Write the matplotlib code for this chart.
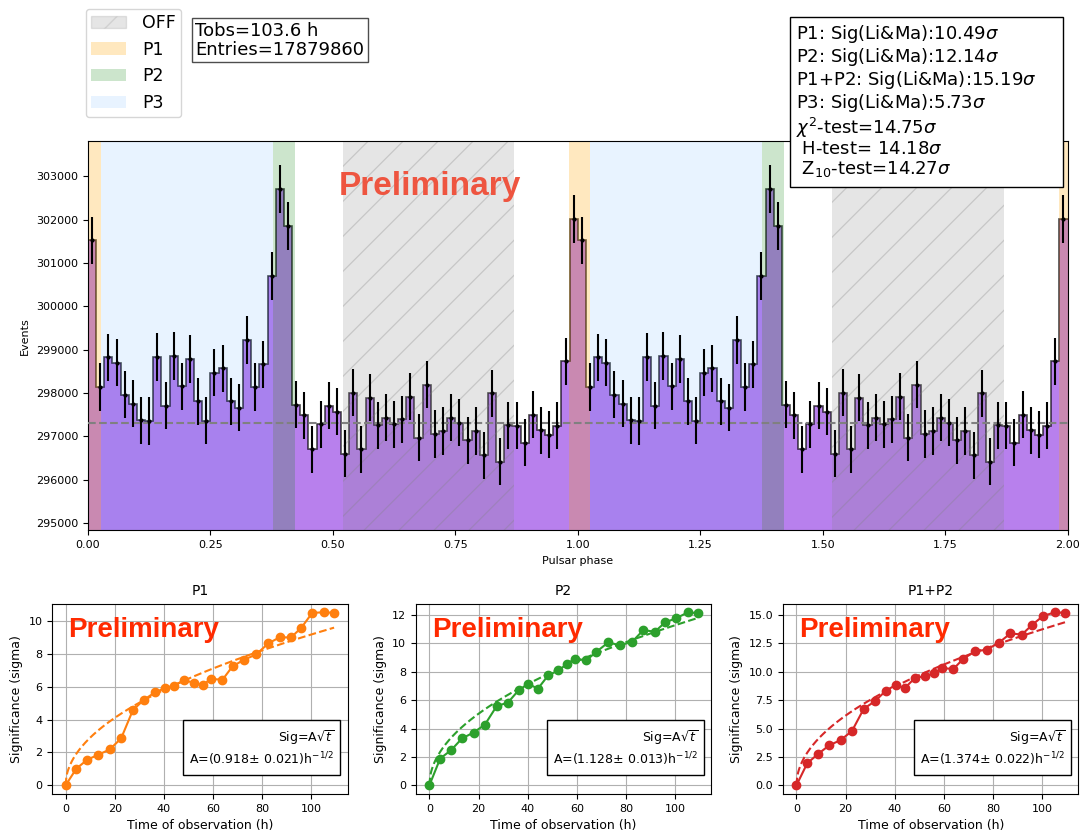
import numpy as np
import matplotlib.pyplot as plt
from matplotlib.patches import Patch, Rectangle
from matplotlib.collections import LineCollection

# Phaseogram: events per phase bin, 60 bins for one rotation (plotted twice)
counts_one_cycle = [
    301520, 298140, 298820, 298700, 297960, 297750, 297370, 297350, 298830, 297710,
    298850, 298150, 298780, 297810, 297360, 298470, 298570, 297810, 297660, 299220,
    298140, 298660, 300700, 302710, 301850, 297730, 297480, 296700, 297280, 297710,
    297570, 296600, 298010, 296700, 297890, 297250, 297430, 297280, 297390, 297910,
    296970, 298190, 297050, 297120, 297430, 297310, 296910, 297120, 296560, 297990,
    296410, 297250, 297240, 296850, 297500, 297140, 297040, 297240, 298730, 302020,
]
n_bins = 60
bkg_level = 297300

# Phase windows
off_range = (0.52, 0.87)
p1_range = (-0.017, 0.026)
p2_range = (0.377, 0.422)
p3_range = (0.026, 0.377)

info_text = 'Tobs=103.6 h\nEntries=17879860'
stats_lines = [
    r'P1: Sig(Li&Ma):10.49$\sigma$',
    r'P2: Sig(Li&Ma):12.14$\sigma$',
    r'P1+P2: Sig(Li&Ma):15.19$\sigma$',
    r'P3: Sig(Li&Ma):5.73$\sigma$',
    r'$\chi^2$-test=14.75$\sigma$',
    r' H-test= 14.18$\sigma$',
    r' Z$_{10}$-test=14.27$\sigma$',
]

# Significance growth with observation time
obs_time = [0, 4.4, 8.9, 13.3, 18.0, 22.6, 27.4, 31.9, 36.4, 40.3, 44.1, 48.3, 52.4,
            55.8, 59.2, 63.8, 67.9, 72.7, 77.5, 82.4, 87.0, 91.7, 95.9, 100.3, 105.2, 109.2]
sig_p1 = [0, 1.02, 1.57, 1.86, 2.19, 2.86, 4.58, 5.21, 5.66, 5.91, 6.07, 6.38, 6.24,
          6.11, 6.48, 6.42, 7.24, 7.65, 7.96, 8.63, 9.0, 9.0, 9.59, 10.49, 10.53, 10.49]
sig_p2 = [0, 1.89, 2.49, 3.31, 3.72, 4.28, 5.59, 5.82, 6.72, 7.15, 6.8, 7.74, 8.09,
          8.52, 8.92, 8.80, 9.4, 10.06, 9.87, 10.1, 10.93, 10.82, 11.48, 11.76, 12.19, 12.12]
sig_p12 = [0, 1.95, 2.78, 3.52, 3.99, 4.79, 6.75, 7.40, 8.34, 8.82, 8.58, 9.47, 9.62,
           9.85, 10.33, 10.24, 11.15, 11.80, 11.95, 12.57, 13.37, 13.28, 14.14, 14.91, 15.24, 15.18]
panel_names = ['P1', 'P2', 'P1+P2']
panel_sigs = [sig_p1, sig_p2, sig_p12]
panel_colors = ['tab:orange', 'tab:green', 'tab:red']
fit_A = [0.918, 1.128, 1.374]
fit_A_err = [0.021, 0.013, 0.022]

fig = plt.figure(figsize=(10.86, 8.39), dpi=100)

# ---------------- phaseogram ----------------
top_pos = [0.081, 0.368, 0.902, 0.4636]
ax = fig.add_axes(top_pos)

counts = np.tile(counts_one_cycle, 2)
edges = np.linspace(0, 2, 2 * n_bins + 1)
centers = 0.5 * (edges[1:] + edges[:-1])

ax.stairs(counts, edges, fill=True, color='blueviolet', alpha=0.6, zorder=1)
ax.stairs(counts, edges, color='black', alpha=0.7, linewidth=1.2, baseline=None, zorder=1.5)


def draw_window(rng, **kw):
    spans = []
    for k in range(3):
        lo, hi = max(rng[0] + k, 0), min(rng[1] + k, 2)
        if hi > lo:
            spans.append(ax.axvspan(lo, hi, zorder=2, linewidth=0, **kw))
    return spans


off_face = (0.5, 0.5, 0.5, 0.2)
off_spans = draw_window(off_range, facecolor=off_face)
draw_window(p1_range, color='orange', alpha=0.25)
draw_window(p2_range, color='green', alpha=0.2)
draw_window(p3_range, color='dodgerblue', alpha=0.1)

# coarse diagonal hatching for the OFF windows (45 deg in pixels, ~35 px apart)
ax_w = fig.get_figwidth() * fig.dpi * top_pos[2]
ax_h = fig.get_figheight() * fig.dpi * top_pos[3]
step = 35 / ax_w
rise = ax_h / ax_w
segs = [[(x0, 0), (x0 + rise, 1)] for x0 in np.arange(-rise, 1, step)]
for span in off_spans:
    hatch = LineCollection(segs, transform=ax.transAxes, colors=[(0.5, 0.5, 0.5, 0.3)],
                           linewidths=0.9, zorder=2.1)
    ax.add_collection(hatch, autolim=False)
    hatch.set_clip_path(span)

ax.axhline(bkg_level, color='gray', linestyle='--', linewidth=1.5, zorder=3)
ax.errorbar(centers, counts, yerr=np.sqrt(counts), fmt='.', color='black',
            markersize=4, elinewidth=1.5, zorder=4)

ax.set_xlim(0, 2)
ax.set_ylim(294830, 303810)
ax.set_xticks(np.arange(0, 2.01, 0.25))
ax.xaxis.set_major_formatter('{x:.2f}')
ax.tick_params(labelsize=8)
ax.set_xlabel('Pulsar phase', fontsize=8)
ax.set_ylabel('Events', fontsize=8)
ax.text(0.349, 0.884, 'Preliminary', transform=ax.transAxes, ha='center', va='center',
        fontsize=24, fontweight='bold', family='Liberation Sans', color='#ee5540', zorder=5)

legend_handles = [
    Patch(facecolor=off_face, edgecolor=(0.5, 0.5, 0.5, 0.2), hatch='/'),
    Patch(facecolor='orange', alpha=0.25),
    Patch(facecolor='green', alpha=0.2),
    Patch(facecolor='dodgerblue', alpha=0.1),
]
fig.legend(legend_handles, ['OFF', 'P1', 'P2', 'P3'], loc='upper left',
           bbox_to_anchor=(0.071, 1.0), fontsize=12.5, borderpad=0.3, handletextpad=0.95)

fig.text(0.18, 0.974, info_text, fontsize=13, va='top', linespacing=1.05,
         bbox=dict(boxstyle='square,pad=0.22', facecolor='white', edgecolor='0.3'))

# significance summary box
fig.patches.append(Rectangle((0.7275, 0.777), 0.2514, 0.2026, transform=fig.transFigure,
                             facecolor='white', edgecolor='black', linewidth=1, zorder=5))
fig.text(0.733, 0.972, '\n'.join(stats_lines), fontsize=13, va='top', linespacing=1.06,
         zorder=6)

# ---------------- significance vs time ----------------
lefts = [0.048, 0.383, 0.721]
t_fit = np.linspace(0, max(obs_time), 300)
for i in range(3):
    axb = fig.add_axes([lefts[i], 0.0536, 0.272, 0.227])
    axb.plot(obs_time, panel_sigs[i], 'o-', color=panel_colors[i], markersize=6, linewidth=1.5)
    axb.plot(t_fit, fit_A[i] * np.sqrt(t_fit), '--', color=panel_colors[i], linewidth=1.5)
    axb.grid(True)
    axb.set_title(panel_names[i], fontsize=10)
    axb.set_xlabel('Time of observation (h)', fontsize=9)
    axb.set_ylabel('Significance (sigma)', fontsize=9)
    axb.tick_params(labelsize=8)
    axb.text(0.054, 0.86, 'Preliminary', transform=axb.transAxes, ha='left', va='center',
             fontsize=20, fontweight='bold', family='Liberation Sans', color='#ff2a00')
    fit_label = 'Sig=A$\\sqrt{t}$\nA=(%.3f$\\pm$ %.3f)h$^{-1/2}$' % (fit_A[i], fit_A_err[i])
    axb.text(0.955, 0.135, fit_label, transform=axb.transAxes, ha='right', va='bottom',
             fontsize=9, multialignment='right', linespacing=1.3,
             bbox=dict(boxstyle='square,pad=0.5', facecolor='white', edgecolor='black'))

fig.savefig('out.png', dpi=100)
